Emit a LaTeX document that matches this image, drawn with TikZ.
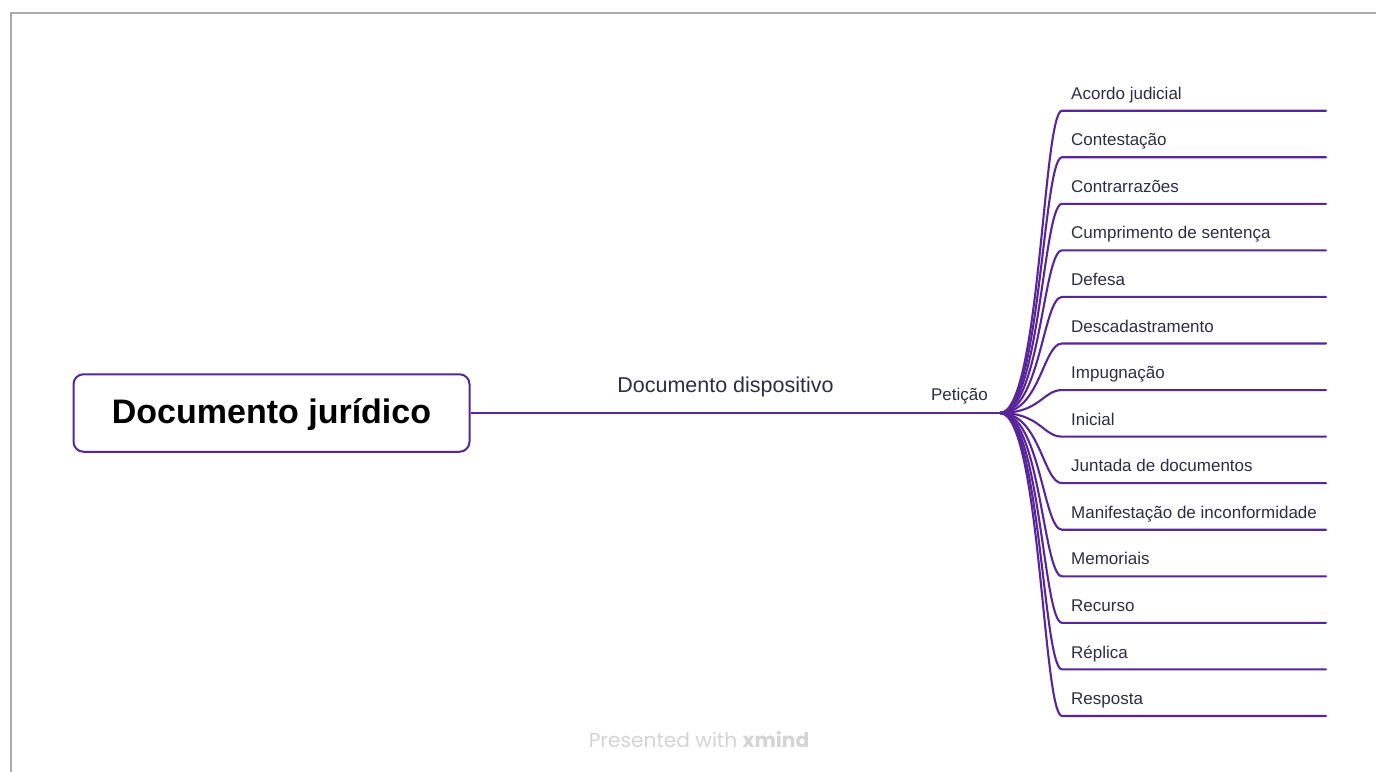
\documentclass[tikz,border=0pt]{standalone}
\usepackage{fontspec}
\setmainfont{Liberation Sans}
\newfontfamily\markfont{Poppins}
\definecolor{mmpurple}{RGB}{88,38,152}
\definecolor{mmtext}{RGB}{46,46,66}
\definecolor{mmframe}{RGB}{170,170,170}
\definecolor{mmmark}{RGB}{212,212,212}
\tikzset{
  conn/.style={draw=mmpurple, line width=2.1pt},
  rootbox/.style={draw=mmpurple, line width=2pt, rounded corners=10pt, fill=white,
    minimum width=396pt, minimum height=77.5pt, inner sep=0pt,
    text height=27pt, text depth=6.4pt,
    font=\fontsize{34}{40}\selectfont\bfseries, text=black},
  branchlabel/.style={inner sep=0pt, text=mmtext, font=\fontsize{21.5}{26}\selectfont},
  subtopic/.style={inner sep=0pt, text=mmtext, font=\fontsize{17}{20}\selectfont},
  leaflabel/.style={inner sep=0pt, text=mmtext, font=\fontsize{17}{20}\selectfont},
  watermark/.style={inner sep=0pt, text=mmmark, font=\markfont\fontsize{20.2}{24}\selectfont}
}
\begin{document}
\begin{tikzpicture}[x=1pt, y=-1pt]
  \useasboundingbox (0,0) rectangle (1376,771);
  \fill[white] (0,0) rectangle (1376,771);
  % outer frame
  \draw[mmframe, line width=1.6pt] (11,780) -- (11,13) -- (1380,13);

  % central topic
  \node[rootbox] (root) at (271.5,413) {Documento jurídico};

  % main branch
  \coordinate (dd) at (858,413);
  \coordinate (pj) at (1000,413);
  \node[branchlabel, anchor=base] (ddlabel) at (725.5,392.3) {Documento dispositivo};
  \node[subtopic, anchor=base] (petlabel) at (959.5,400) {Petição};
  \draw[conn] (root.east) -- (dd) -- (pj);

  % leaves of "Petição"
  \foreach \t [count=\i] in {Acordo judicial, Contestação, Contrarrazões,
      Cumprimento de sentença, Defesa, Descadastramento, Impugnação, Inicial,
      Juntada de documentos, Manifestação de inconformidade, Memoriais,
      Recurso, Réplica, Resposta} {
    \pgfmathsetmacro\yy{110.7+46.56*(\i-1)}
    \coordinate (ls\i) at (1062,\yy);
    \coordinate (le\i) at (1326,\yy);
    \node[leaflabel, anchor=base west] (leaf\i) at (1071,\yy-11.4) {\t};
    \draw[conn, line cap=round] (pj) .. controls (1040,413) and (1043,\yy) .. (ls\i) -- (le\i);
  }

  % footer
  \node[watermark, anchor=base] (mark) at (699,747) {Presented with \textbf{xmind}};
\end{tikzpicture}
\end{document}
